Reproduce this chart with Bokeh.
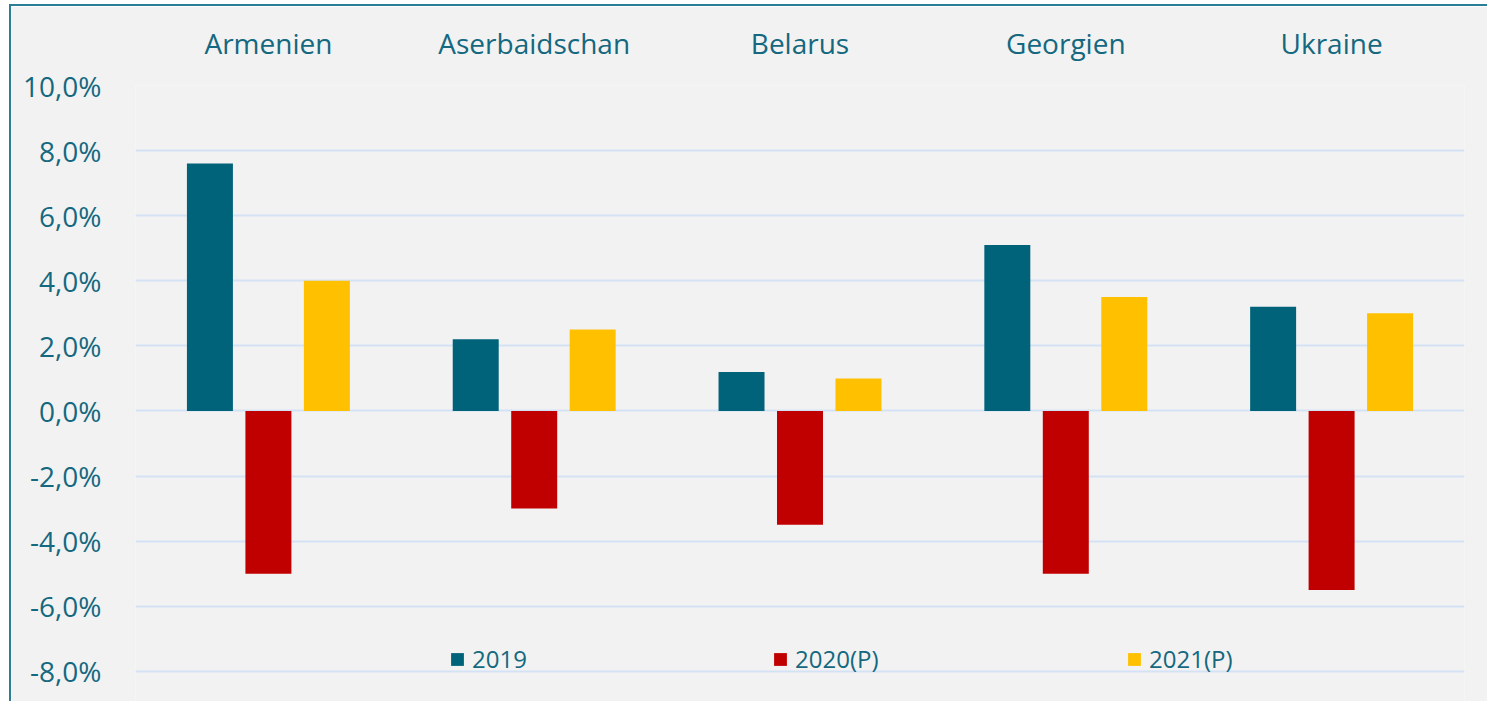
from bokeh.plotting import figure
from bokeh.models import ColumnDataSource, FactorRange, Range1d, FixedTicker, Legend, LegendItem
from bokeh.transform import dodge
from bokeh.embed import file_html
from bokeh.resources import INLINE

countries = ["Armenien", "Aserbaidschan", "Belarus", "Georgien", "Ukraine"]
v2019 = [7.6, 2.2, 1.2, 5.1, 3.2]
v2020 = [-5.0, -3.0, -3.5, -5.0, -5.5]
v2021 = [4.0, 2.5, 1.0, 3.5, 3.0]
series_names = ["2019", "2020(P)", "2021(P)"]
y_ticks = [-8, -6, -4, -2, 0, 2, 4, 6, 8, 10]
y_tick_labels = ["-8,0%", "-6,0%", "-4,0%", "-2,0%", "0,0%", "2,0%", "4,0%", "6,0%", "8,0%", "10,0%"]

TEXT = "#14687f"
BORDER = "#2b7f95"
FONT = "Open Sans"
colors = ["#00637a", "#c00000", "#ffc000"]

src = ColumnDataSource(dict(cat=countries, s2019=v2019, s2020=v2020, s2021=v2021))

p = figure(width=1478, height=697, x_range=FactorRange(*countries, range_padding=0),
           y_range=Range1d(-8.99, 10), x_axis_location="above",
           output_backend="svg", toolbar_location=None,
           min_border_left=124, min_border_right=25, min_border_top=79, min_border_bottom=0,
           background_fill_color="#f2f2f2", border_fill_color="#f2f2f2",
           styles={"border-left": f"2px solid {BORDER}", "border-top": f"2px solid {BORDER}",
                   "margin-left": "9px", "margin-top": "4px"})
p.outline_line_color = None

offsets = [-0.22, 0.0, 0.22]
fields = ["s2019", "s2020", "s2021"]
renderers = []
for f, off, c in zip(fields, offsets, colors):
    r = p.vbar(x=dodge("cat", off, range=p.x_range), top=f, bottom=0, width=0.173,
               source=src, fill_color=c, line_color=None)
    renderers.append(r)

# x axis (categories on top)
xa = p.xaxis[0]
xa.axis_line_color = None
xa.major_tick_line_color = None
xa.minor_tick_line_color = None
xa.major_label_text_font = FONT
xa.major_label_text_font_size = "28px"
xa.major_label_text_color = TEXT
xa.major_label_standoff = 18
p.xgrid.grid_line_color = None

# y axis
ya = p.yaxis[0]
ya.ticker = FixedTicker(ticks=y_ticks)
ya.major_label_overrides = {t: l for t, l in zip(y_ticks, y_tick_labels)}
ya.axis_line_color = None
ya.major_tick_line_color = None
ya.minor_tick_line_color = None
ya.major_label_text_font = FONT
ya.major_label_text_font_size = "28px"
ya.major_label_text_color = TEXT
ya.major_label_standoff = 28
p.ygrid.ticker = FixedTicker(ticks=y_ticks)
p.ygrid.grid_line_color = "#d3e2f5"
p.ygrid.grid_line_width = 2

legend_x = [314, 637, 991]
for name, r, lx in zip(series_names, renderers, legend_x):
    lg = Legend(items=[LegendItem(label=name, renderers=[r])], location=(lx, 28),
                orientation="horizontal", padding=0, margin=0, spacing=0,
                glyph_width=16, glyph_height=16, label_standoff=7,
                label_text_font=FONT, label_text_font_size="24px", label_text_color=TEXT,
                background_fill_alpha=0, border_line_color=None)
    p.add_layout(lg, "center")

open("out.html", "w").write(file_html(p, INLINE))
